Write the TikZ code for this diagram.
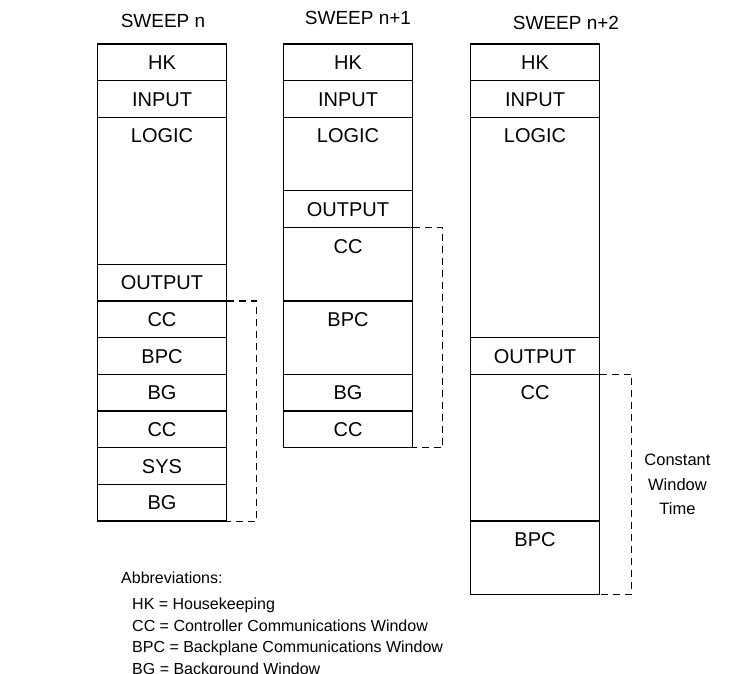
\documentclass[tikz,border=0pt]{standalone}
\usepackage{fontspec}
\setmainfont{Liberation Sans}
\usetikzlibrary{positioning}

\begin{document}
\begin{tikzpicture}[
    x=1pt, y=-1pt,
    node distance=0pt,
    cell/.style={rectangle, draw, line width=1.3pt, minimum width=129pt,
                 inner xsep=0pt, inner ysep=11.2pt, outer sep=0pt,
                 text height=14.3pt, text depth={(#1-1)*36.7pt},
                 font=\fontsize{20}{24}\selectfont},
    cell/.default=1,
    title/.style={font=\fontsize{19}{23}\selectfont, inner sep=0pt},
    note/.style={font=\fontsize{16}{19}\selectfont, inner sep=0pt},
    window/.style={dash pattern=on 7pt off 5pt, line width=1.2pt},
  ]
  \useasboundingbox (0,0) rectangle (733,673);

  % sweep n
  \node[cell, anchor=north] (n-hk) at (162,44) {HK};
  \node[cell, below=of n-hk] (n-in) {INPUT};
  \node[cell=4, below=of n-in] (n-logic) {LOGIC};
  \node[cell, below=of n-logic] (n-out) {OUTPUT};
  \node[cell, below=of n-out] (n-cc1) {CC};
  \node[cell, below=of n-cc1] (n-bpc) {BPC};
  \node[cell, below=of n-bpc] (n-bg1) {BG};
  \node[cell, below=of n-bg1] (n-cc2) {CC};
  \node[cell, below=of n-cc2] (n-sys) {SYS};
  \node[cell, below=of n-sys] (n-bg2) {BG};
  \node[title, above=16pt of n-hk, xshift=1pt] (n-title) {SWEEP n};

  % sweep n+1
  \node[cell, anchor=north] (m-hk) at (348,44) {HK};
  \node[cell, below=of m-hk] (m-in) {INPUT};
  \node[cell=2, below=of m-in] (m-logic) {LOGIC};
  \node[cell, below=of m-logic] (m-out) {OUTPUT};
  \node[cell=2, below=of m-out] (m-cc1) {CC};
  \node[cell=2, below=of m-cc1] (m-bpc) {BPC};
  \node[cell, below=of m-bpc] (m-bg) {BG};
  \node[cell, below=of m-bg] (m-cc2) {CC};
  \node[title, above=19pt of m-hk, xshift=10pt] (m-title) {SWEEP n+1};

  % sweep n+2
  \node[cell, anchor=north] (k-hk) at (535,44) {HK};
  \node[cell, below=of k-hk] (k-in) {INPUT};
  \node[cell=6, below=of k-in] (k-logic) {LOGIC};
  \node[cell, below=of k-logic] (k-out) {OUTPUT};
  \node[cell=4, below=of k-out] (k-cc) {CC};
  \node[cell=2, below=of k-cc] (k-bpc) {BPC};
  \node[title, above=14pt of k-hk, xshift=31pt] (k-title) {SWEEP n+2};

  % constant window brackets
  \draw[window] (n-out.south east) -- ++(30,0) |- (n-bg2.south east);
  \draw[window] (m-out.south east) -- ++(30,0) |- (m-cc2.south east);
  \draw[window] (k-out.south east) -- ++(32,0) |- (k-bpc.south east)
    node[pos=0.25, right=9pt, align=center, font=\fontsize{16.5}{24.5}\selectfont]
    (window-label) {Constant\\Window\\Time};

  % abbreviations
  \node[note, anchor=west] (abbr) at (121,578) {Abbreviations:};
  \node[note, anchor=north west, align=left, font=\fontsize{16}{21.5}\selectfont]
    (abbr-list) at (132,598)
    {HK = Housekeeping\\
     CC = Controller Communications Window\\
     BPC = Backplane Communications Window\\
     BG = Background Window};
\end{tikzpicture}
\end{document}
